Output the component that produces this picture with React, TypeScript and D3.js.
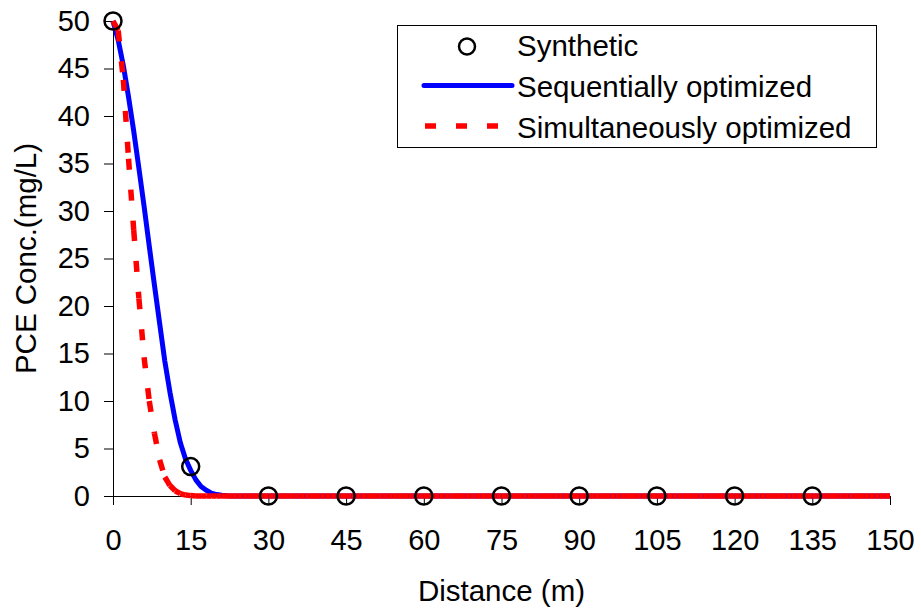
import React, { useEffect, useRef } from 'react';
import * as d3 from 'd3';

// ---- data ----
const X_TICKS = [0, 15, 30, 45, 60, 75, 90, 105, 120, 135, 150];
const Y_TICKS = [0, 5, 10, 15, 20, 25, 30, 35, 40, 45, 50];

const SYNTH_DIST = [0, 15, 30, 45, 60, 75, 90, 105, 120, 135];
const SYNTH_CONC = [50, 3.1, 0, 0, 0, 0, 0, 0, 0, 0];

// model curves sampled every 1 m from 0 to 150 m (values read off the picture;
// beyond the listed head the curves sit on 0)
const CURVE_DIST = d3.range(0, 151, 1);
const SEQ_HEAD = [50, 48.0, 45.3, 42.0, 38.4, 34.5, 30.5, 26.3, 22.2, 18.2, 14.2, 10.9, 8.0, 5.6, 3.9, 2.7, 1.7, 1.0, 0.6, 0.3, 0.15, 0.07, 0.03, 0.01];
const SIM_HEAD = [50, 49.0, 43.8, 35.5, 28.0, 20.8, 14.6, 10.0, 6.6, 3.8, 2.0, 1.1, 0.55, 0.25, 0.1, 0.04, 0.01];
const SEQ_CONC = CURVE_DIST.map((_, i) => (i < SEQ_HEAD.length ? SEQ_HEAD[i] : 0));
const SIM_CONC = CURVE_DIST.map((_, i) => (i < SIM_HEAD.length ? SIM_HEAD[i] : 0));

const LEGEND = ['Synthetic', 'Sequentially optimized', 'Simultaneously optimized'];

const FONT = '"Liberation Sans", Arial, Helvetica, sans-serif';

const x = d3.scaleLinear().domain([0, 150]).range([113, 890]);
const y = d3.scaleLinear().domain([0, 50]).range([496, 21]);

export default function App() {
  const gx = useRef<SVGGElement>(null);
  const gy = useRef<SVGGElement>(null);

  useEffect(() => {
    const ax = d3.axisBottom(x).tickValues(X_TICKS).tickSize(9).tickSizeOuter(0).tickPadding(24).tickFormat(d3.format('d'));
    const ay = d3.axisLeft(y).tickValues(Y_TICKS).tickSize(9).tickSizeOuter(0).tickPadding(14).tickFormat(d3.format('d'));
    const style = (g: any) => {
      g.attr('font-family', FONT).attr('font-size', 29);
      g.selectAll('text').attr('fill', '#000');
      g.selectAll('line').attr('stroke', '#000');
      g.select('.domain').attr('stroke', '#000');
    };
    d3.select(gx.current!).call(ax as any).call(style);
    d3.select(gy.current!).call(ay as any).call(style);
  }, []);

  const line = d3.line<[number, number]>().x(d => x(d[0])).y(d => y(d[1]));
  const seqPts: [number, number][] = CURVE_DIST.map((d, i) => [d, SEQ_CONC[i]]);
  const simPts: [number, number][] = CURVE_DIST.map((d, i) => [d, SIM_CONC[i]]);

  return (
    <svg width={921} height={615} style={{ position: 'absolute', left: 0, top: 0, background: '#fff' }}>
      <rect x={0} y={0} width={921} height={615} fill="#fff" />
      <g ref={gx} transform={`translate(0,${y(0)})`} />
      <g ref={gy} transform={`translate(${x(0)},0)`} />

      <path d={line(seqPts) || ''} fill="none" stroke="#0000FF" strokeWidth={5} strokeLinejoin="round" />
      <g>
        {simPts.slice(0, -1).map((p, i) => (
          <path key={i} d={line([p, simPts[i + 1]]) || ''} fill="none" stroke="#FF0000" strokeWidth={5.5} strokeDasharray="11,20" />
        ))}
      </g>
      <g>
        {SYNTH_DIST.map((d, i) => (
          <circle key={i} cx={x(d)} cy={y(SYNTH_CONC[i])} r={8.5} fill="none" stroke="#000" strokeWidth={2.5} />
        ))}
      </g>

      <text x={(x(0) + x(150)) / 2} y={601} textAnchor="middle" fontFamily={FONT} fontSize={29.5} fill="#000">Distance (m)</text>
      <text transform={`translate(36,${(y(0) + y(50)) / 2}) rotate(-90)`} textAnchor="middle" fontFamily={FONT} fontSize={29.5} fill="#000">PCE Conc.(mg/L)</text>

      <g>
        <rect x={397.5} y={25.5} width={479} height={122} fill="#fff" stroke="#000" strokeWidth={1} />
        <circle cx={467} cy={46.5} r={8} fill="none" stroke="#000" strokeWidth={2.5} />
        <line x1={424} x2={512} y1={85.5} y2={85.5} stroke="#0000FF" strokeWidth={5} strokeLinecap="round" />
        <line x1={425} x2={512} y1={126} y2={126} stroke="#FF0000" strokeWidth={5.5} strokeDasharray="11,20" />
        {LEGEND.map((t, i) => (
          <text key={t} x={517} y={56 + i * 41} fontFamily={FONT} fontSize={29.5} fill="#000">{t}</text>
        ))}
      </g>
    </svg>
  );
}
